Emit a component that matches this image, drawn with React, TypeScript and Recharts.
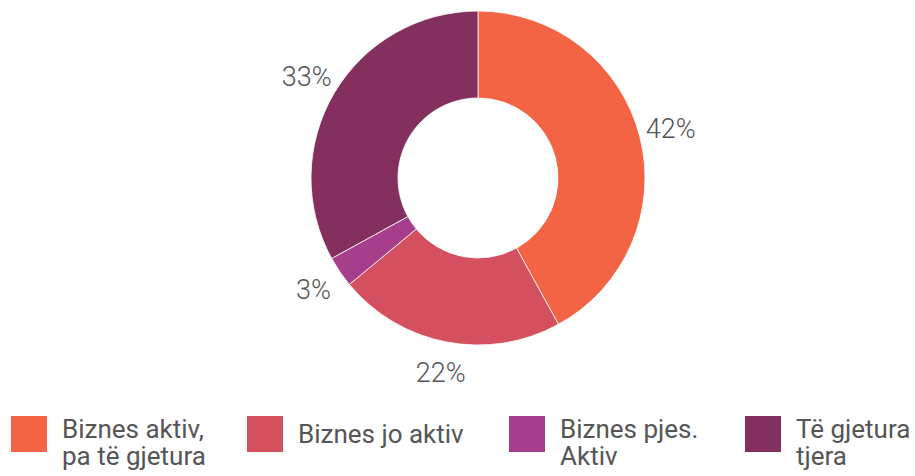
import React from "react";
import { PieChart, Pie, Cell } from "recharts";

const categories = [
  "Biznes aktiv, pa të gjetura",
  "Biznes jo aktiv",
  "Biznes pjes. Aktiv",
  "Të gjetura tjera",
];
const values = [42, 22, 3, 33];
const colors = ["#F26444", "#D4505F", "#A63E8C", "#84305E"];
const legendWidths = [236, 262, 236, 170];
const legendTextWidths = [165, 190, 165, 118];

const data = categories.map((name, i) => ({ name, value: values[i] }));

const RAD = Math.PI / 180;

const renderLabel = (props: any) => {
  const { cx, cy, midAngle, outerRadius, value } = props;
  const r = outerRadius + 32;
  const x = cx + r * Math.cos(-midAngle * RAD);
  const y = cy + r * Math.sin(-midAngle * RAD);
  return (
    <text
      x={x}
      y={y}
      textAnchor="middle"
      dominantBaseline="central"
      fill="#555555"
      fontSize={27}
      fontWeight={300}
      fontFamily="Roboto, 'Noto Sans', sans-serif"
    >
      {`${value}%`}
    </text>
  );
};

export default function App() {
  return (
    <div style={{ width: 915, height: 476, position: "relative", background: "#fff", overflow: "hidden" }}>
      <style>{`body{margin:0}`}</style>
      <PieChart width={915} height={400} margin={{ top: 0, right: 0, bottom: 0, left: 0 }}>
        <Pie
          data={data}
          dataKey="value"
          nameKey="name"
          cx={478}
          cy={178}
          innerRadius={80}
          outerRadius={167}
          startAngle={90}
          endAngle={-270}
          stroke="#ffffff"
          strokeWidth={0.8}
          label={renderLabel}
          labelLine={false}
          isAnimationActive={false}
        >
          {data.map((d, i) => (
            <Cell key={d.name} fill={colors[i]} />
          ))}
        </Pie>
      </PieChart>
      <div
        style={{
          position: "absolute",
          top: 416,
          left: 11,
          display: "flex",
          fontFamily: "Roboto, 'Noto Sans', sans-serif",
          fontSize: 26,
          lineHeight: "27px",
          color: "#555555",
        }}
      >
        {data.map((d, i) => (
          <div key={d.name} style={{ width: legendWidths[i], display: "flex", alignItems: "flex-start" }}>
            <div style={{ width: 36, height: 36, background: colors[i], flex: "none" }} />
            <div
              style={{
                marginLeft: 15,
                width: legendTextWidths[i],
                minHeight: 36,
                display: "flex",
                alignItems: "center",
              }}
            >
              <span>{d.name}</span>
            </div>
          </div>
        ))}
      </div>
    </div>
  );
}
